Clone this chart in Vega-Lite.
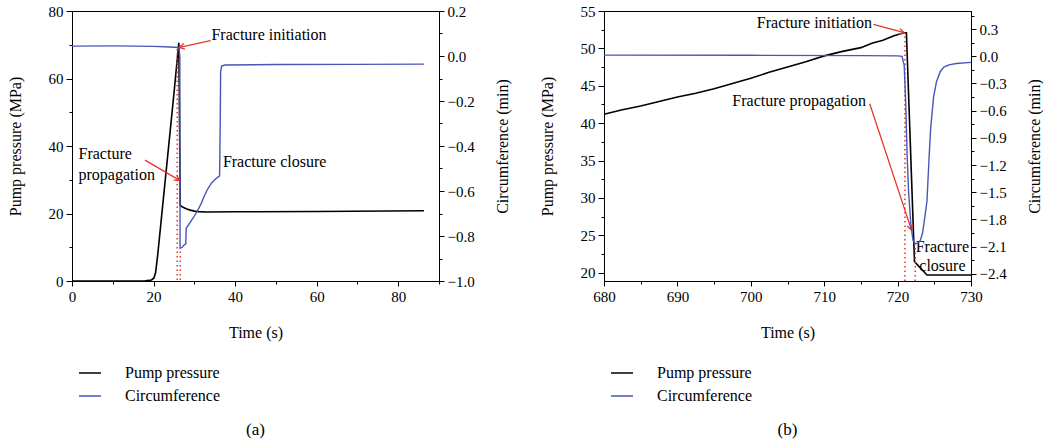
{
  "$schema": "https://vega.github.io/schema/vega-lite/v6.json",
  "padding": {"left": 6, "top": 3, "right": 2, "bottom": 5},
  "background": "white",
  "config": {
    "font": "Liberation Serif",
    "view": {"stroke": "black", "strokeWidth": 1},
    "axis": {"labelFont": "Liberation Serif", "labelFontSize": 15, "labelColor": "black", "titleFont": "Liberation Serif", "titleFontSize": 16, "titleFontWeight": "normal", "titleColor": "black", "domainColor": "black", "tickColor": "black", "grid": false, "labelPadding": 3, "labelFlush": false, "labelOverlap": false},
    "legend": {"labelFont": "Liberation Serif", "labelFontSize": 16, "labelColor": "black"},
    "title": {"font": "Liberation Serif", "fontSize": 17, "fontWeight": "normal", "color": "black"},
    "text": {"font": "Liberation Serif", "fontSize": 16, "color": "black"}
  },
  "hconcat": [
    {
      "width": 367,
      "height": 270,
      "title": {"text": "(a)", "orient": "bottom", "anchor": "middle", "frame": "group", "offset": 18},
      "layer": [
        {
          "data": {"values": [
            {"t": 0, "p": 0}, {"t": 10, "p": 0}, {"t": 18, "p": 0.05}, {"t": 19.5, "p": 0.3}, {"t": 20.1, "p": 0.9}, {"t": 20.5, "p": 2.5}, {"t": 21, "p": 7.5}, {"t": 22, "p": 19.5}, {"t": 23, "p": 31.5}, {"t": 24, "p": 43.5}, {"t": 25, "p": 55.5}, {"t": 26.2, "p": 70.6}, {"t": 26.55, "p": 22.4}, {"t": 27, "p": 22}, {"t": 28, "p": 21.4}, {"t": 29, "p": 21}, {"t": 30, "p": 20.7}, {"t": 31, "p": 20.55}, {"t": 33, "p": 20.45}, {"t": 40, "p": 20.5}, {"t": 60, "p": 20.6}, {"t": 86.3, "p": 20.8}
          ]},
          "mark": {"type": "line", "strokeWidth": 1.6},
          "encoding": {
            "x": {"field": "t", "type": "quantitative", "scale": {"domain": [0, 90], "nice": false, "zero": false},
              "axis": {"title": "Time (s)", "values": [0, 10, 20, 30, 40, 50, 60, 70, 80, 90], "labelExpr": "datum.value % 20 === 0 && datum.value < 90 ? datum.label : ''", "tickSize": {"condition": {"test": "datum.value % 20 === 0", "value": 5}, "value": 3}, "titlePadding": 20}},
            "y": {"field": "p", "type": "quantitative", "scale": {"domain": [0, 80], "nice": false, "zero": false},
              "axis": {"title": "Pump pressure (MPa)", "values": [0, 10, 20, 30, 40, 50, 60, 70, 80], "labelExpr": "datum.value % 20 === 0 ? datum.label : ''", "tickSize": {"condition": {"test": "datum.value % 20 === 0", "value": 6}, "value": 3}, "titlePadding": 25}},
            "color": {"datum": "Pump pressure", "type": "nominal", "scale": {"domain": ["Pump pressure", "Circumference"], "range": ["black", "#4b55b9"]},
              "legend": {"orient": "none", "legendX": 6, "legendY": 350, "title": null, "symbolType": "stroke", "symbolSize": 484, "symbolStrokeWidth": 1.5, "labelOffset": 23, "rowPadding": 3, "padding": 0, "direction": "vertical"}}
          }
        },
        {
          "data": {"values": [{"t": 25.8, "p": 0.3, "p2": 69}, {"t": 26.55, "p": 0.3, "p2": 9}]},
          "mark": {"type": "rule", "color": "#e8352b", "strokeWidth": 1.5, "strokeDash": [1.5, 3]},
          "encoding": {
            "x": {"field": "t", "type": "quantitative", "scale": {"domain": [0, 90], "nice": false, "zero": false}, "axis": null},
            "y": {"field": "p", "type": "quantitative", "scale": {"domain": [0, 80], "nice": false, "zero": false}, "axis": null},
            "y2": {"field": "p2"}
          }
        },
        {
          "data": {"values": [{"t": 34.0, "p": 71.2, "t2": 26.3, "p2": 69.2}, {"t": 17.9, "p": 35.8, "t2": 26.4, "p2": 29.8}]},
          "mark": {"type": "rule", "color": "#e8352b", "strokeWidth": 1.3},
          "encoding": {
            "x": {"field": "t", "type": "quantitative", "scale": {"domain": [0, 90], "nice": false, "zero": false}, "axis": null},
            "y": {"field": "p", "type": "quantitative", "scale": {"domain": [0, 80], "nice": false, "zero": false}, "axis": null},
            "x2": {"field": "t2"}, "y2": {"field": "p2"}
          }
        },
        {
          "data": {"values": [{"t2": 26.3, "p2": 69.2, "dir": 257.5}, {"t2": 26.4, "p2": 29.8, "dir": 121.5}]},
          "mark": {"type": "point", "shape": "M-0.6,1.1L0,0L0.6,1.1", "filled": false, "color": "#e8352b", "strokeWidth": 1.3, "size": 90, "opacity": 1},
          "encoding": {
            "x": {"field": "t2", "type": "quantitative", "scale": {"domain": [0, 90], "nice": false, "zero": false}, "axis": null},
            "y": {"field": "p2", "type": "quantitative", "scale": {"domain": [0, 80], "nice": false, "zero": false}, "axis": null},
            "angle": {"field": "dir", "type": "quantitative", "scale": null}
          }
        },
        {
          "data": {"values": [{"t": 34.2, "p": 72.9, "label": "Fracture initiation"}, {"t": 1.6, "p": 37.6, "label": "Fracture"}, {"t": 1.6, "p": 31.4, "label": "propagation"}, {"t": 37.0, "p": 35.2, "label": "Fracture closure"}]},
          "mark": {"type": "text", "align": "left", "baseline": "middle"},
          "encoding": {
            "x": {"field": "t", "type": "quantitative", "scale": {"domain": [0, 90], "nice": false, "zero": false}, "axis": null},
            "y": {"field": "p", "type": "quantitative", "scale": {"domain": [0, 80], "nice": false, "zero": false}, "axis": null},
            "text": {"field": "label"}
          }
        },
        {
          "data": {"values": [
            {"t": 0, "c": 0.044}, {"t": 10, "c": 0.045}, {"t": 20, "c": 0.043}, {"t": 24, "c": 0.04}, {"t": 26.2, "c": 0.038}, {"t": 26.45, "c": 0.0}, {"t": 26.5, "c": -0.855}, {"t": 27.0, "c": -0.85}, {"t": 27.5, "c": -0.84}, {"t": 27.9, "c": -0.835}, {"t": 28.0, "c": -0.765}, {"t": 28.6, "c": -0.75}, {"t": 29.7, "c": -0.72}, {"t": 30.7, "c": -0.69}, {"t": 31.7, "c": -0.655}, {"t": 32.5, "c": -0.62}, {"t": 33.3, "c": -0.59}, {"t": 34.2, "c": -0.565}, {"t": 35, "c": -0.55}, {"t": 36.2, "c": -0.533}, {"t": 36.35, "c": -0.3}, {"t": 36.45, "c": -0.07}, {"t": 36.7, "c": -0.045}, {"t": 37.5, "c": -0.04}, {"t": 50, "c": -0.038}, {"t": 70, "c": -0.037}, {"t": 86.3, "c": -0.036}
          ]},
          "mark": {"type": "line", "strokeWidth": 1.4},
          "encoding": {
            "x": {"field": "t", "type": "quantitative", "scale": {"domain": [0, 90], "nice": false, "zero": false}, "axis": null},
            "y": {"field": "c", "type": "quantitative", "scale": {"domain": [-1, 0.2], "nice": false, "zero": false},
              "axis": {"orient": "right", "title": "Circumference (min)", "titleAngle": 270, "titleBaseline": "top", "format": ".1f", "values": [-1, -0.9, -0.8, -0.7, -0.6, -0.5, -0.4, -0.3, -0.2, -0.1, 0, 0.1, 0.2], "labelExpr": "abs(round(datum.value * 10)) % 2 === 0 ? datum.label : ''", "tickSize": {"condition": {"test": "abs(round(datum.value * 10)) % 2 === 0", "value": 5}, "value": 3}, "titlePadding": 20}},
            "color": {"datum": "Circumference", "type": "nominal"}
          }
        }
      ],
      "resolve": {"scale": {"x": "independent", "y": "independent"}}
    },
    {
      "width": 367,
      "height": 270,
      "title": {"text": "(b)", "orient": "bottom", "anchor": "middle", "frame": "group", "offset": 18},
      "layer": [
        {
          "data": {"values": [
            {"t": 680, "p": 41.2}, {"t": 682.5, "p": 41.8}, {"t": 685, "p": 42.3}, {"t": 687.5, "p": 42.9}, {"t": 690, "p": 43.5}, {"t": 692.5, "p": 44.0}, {"t": 695, "p": 44.6}, {"t": 697.5, "p": 45.3}, {"t": 700, "p": 46.0}, {"t": 702.5, "p": 46.8}, {"t": 705, "p": 47.5}, {"t": 707.5, "p": 48.2}, {"t": 710, "p": 49.0}, {"t": 712.5, "p": 49.6}, {"t": 715, "p": 50.1}, {"t": 716.5, "p": 50.7}, {"t": 718, "p": 51.1}, {"t": 719.5, "p": 51.7}, {"t": 720.9, "p": 52.1}, {"t": 721.2, "p": 52.1}, {"t": 722.3, "p": 21.5}, {"t": 724, "p": 19.7}, {"t": 730, "p": 19.7}
          ]},
          "mark": {"type": "line", "strokeWidth": 1.6},
          "encoding": {
            "x": {"field": "t", "type": "quantitative", "scale": {"domain": [680, 730], "nice": false, "zero": false},
              "axis": {"title": "Time (s)", "values": [680, 685, 690, 695, 700, 705, 710, 715, 720, 725, 730], "labelExpr": "datum.value % 10 === 0 ? datum.label : ''", "tickSize": {"condition": {"test": "datum.value % 10 === 0", "value": 5}, "value": 3}, "titlePadding": 20}},
            "y": {"field": "p", "type": "quantitative", "scale": {"domain": [18.9, 55], "nice": false, "zero": false},
              "axis": {"title": "Pump pressure (MPa)", "values": [20, 22.5, 25, 27.5, 30, 32.5, 35, 37.5, 40, 42.5, 45, 47.5, 50, 52.5, 55], "format": "d", "labelExpr": "round(datum.value * 2) % 10 === 0 ? datum.label : ''", "tickSize": {"condition": {"test": "round(datum.value * 2) % 10 === 0", "value": 6}, "value": 3}, "titlePadding": 25}},
            "color": {"datum": "Pump pressure", "type": "nominal", "scale": {"domain": ["Pump pressure", "Circumference"], "range": ["black", "#4b55b9"]},
              "legend": {"orient": "none", "legendX": 6, "legendY": 350, "title": null, "symbolType": "stroke", "symbolSize": 484, "symbolStrokeWidth": 1.5, "labelOffset": 23, "rowPadding": 3, "padding": 0, "direction": "vertical"}}
          }
        },
        {
          "data": {"values": [{"t": 721.0, "p": 18.9, "p2": 51.8}, {"t": 722.4, "p": 18.9, "p2": 23.5}]},
          "mark": {"type": "rule", "color": "#e8352b", "strokeWidth": 1.5, "strokeDash": [1.5, 3]},
          "encoding": {
            "x": {"field": "t", "type": "quantitative", "scale": {"domain": [680, 730], "nice": false, "zero": false}, "axis": null},
            "y": {"field": "p", "type": "quantitative", "scale": {"domain": [18.9, 55], "nice": false, "zero": false}, "axis": null},
            "y2": {"field": "p2"}
          }
        },
        {
          "data": {"values": [{"t": 716.7, "p": 53.2, "t2": 720.9, "p2": 52.1}, {"t": 716.2, "p": 42.6, "t2": 721.9, "p2": 25.7}]},
          "mark": {"type": "rule", "color": "#e8352b", "strokeWidth": 1.3},
          "encoding": {
            "x": {"field": "t", "type": "quantitative", "scale": {"domain": [680, 730], "nice": false, "zero": false}, "axis": null},
            "y": {"field": "p", "type": "quantitative", "scale": {"domain": [18.9, 55], "nice": false, "zero": false}, "axis": null},
            "x2": {"field": "t2"}, "y2": {"field": "p2"}
          }
        },
        {
          "data": {"values": [{"t2": 720.9, "p2": 52.1, "dir": 104.7}, {"t2": 721.9, "p2": 25.7, "dir": 161.8}]},
          "mark": {"type": "point", "shape": "M-0.6,1.1L0,0L0.6,1.1", "filled": false, "color": "#e8352b", "strokeWidth": 1.3, "size": 90, "opacity": 1},
          "encoding": {
            "x": {"field": "t2", "type": "quantitative", "scale": {"domain": [680, 730], "nice": false, "zero": false}, "axis": null},
            "y": {"field": "p2", "type": "quantitative", "scale": {"domain": [18.9, 55], "nice": false, "zero": false}, "axis": null},
            "angle": {"field": "dir", "type": "quantitative", "scale": null}
          }
        },
        {
          "data": {"values": [{"t": 716.5, "p": 53.45, "label": "Fracture initiation"}, {"t": 715.7, "p": 43.0, "label": "Fracture propagation"}]},
          "mark": {"type": "text", "align": "right", "baseline": "middle"},
          "encoding": {
            "x": {"field": "t", "type": "quantitative", "scale": {"domain": [680, 730], "nice": false, "zero": false}, "axis": null},
            "y": {"field": "p", "type": "quantitative", "scale": {"domain": [18.9, 55], "nice": false, "zero": false}, "axis": null},
            "text": {"field": "label"}
          }
        },
        {
          "data": {"values": [{"t": 726.1, "p": 23.4, "label": "Fracture"}, {"t": 726.1, "p": 20.9, "label": "closure"}]},
          "mark": {"type": "text", "align": "center", "baseline": "middle"},
          "encoding": {
            "x": {"field": "t", "type": "quantitative", "scale": {"domain": [680, 730], "nice": false, "zero": false}, "axis": null},
            "y": {"field": "p", "type": "quantitative", "scale": {"domain": [18.9, 55], "nice": false, "zero": false}, "axis": null},
            "text": {"field": "label"}
          }
        },
        {
          "data": {"values": [
            {"t": 680, "c": 0.013}, {"t": 700, "c": 0.011}, {"t": 715, "c": 0.008}, {"t": 720, "c": 0.005}, {"t": 720.6, "c": 0.0}, {"t": 720.9, "c": -0.1}, {"t": 721.1, "c": -0.5}, {"t": 721.3, "c": -1.1}, {"t": 721.5, "c": -1.5}, {"t": 721.8, "c": -1.85}, {"t": 722.1, "c": -2.03}, {"t": 722.4, "c": -2.07}, {"t": 722.8, "c": -2.06}, {"t": 723.1, "c": -2.03}, {"t": 723.4, "c": -1.95}, {"t": 723.7, "c": -1.78}, {"t": 724.0, "c": -1.6}, {"t": 724.3, "c": -1.1}, {"t": 724.5, "c": -0.8}, {"t": 724.9, "c": -0.45}, {"t": 725.3, "c": -0.28}, {"t": 725.8, "c": -0.17}, {"t": 726.3, "c": -0.12}, {"t": 727, "c": -0.095}, {"t": 728, "c": -0.08}, {"t": 730, "c": -0.067}
          ]},
          "mark": {"type": "line", "strokeWidth": 1.4},
          "encoding": {
            "x": {"field": "t", "type": "quantitative", "scale": {"domain": [680, 730], "nice": false, "zero": false}, "axis": null},
            "y": {"field": "c", "type": "quantitative", "scale": {"domain": [-2.48, 0.5], "nice": false, "zero": false},
              "axis": {"orient": "right", "title": "Circumference (min)", "titleAngle": 270, "titleBaseline": "top", "format": ".1f", "values": [-2.4, -2.25, -2.1, -1.95, -1.8, -1.65, -1.5, -1.35, -1.2, -1.05, -0.9, -0.75, -0.6, -0.45, -0.3, -0.15, 0, 0.15, 0.3, 0.45], "labelExpr": "abs(round(datum.value / 0.15)) % 2 === 0 ? datum.label : ''", "tickSize": {"condition": {"test": "abs(round(datum.value / 0.15)) % 2 === 0", "value": 5}, "value": 3}, "titlePadding": 20}},
            "color": {"datum": "Circumference", "type": "nominal"}
          }
        }
      ],
      "resolve": {"scale": {"x": "independent", "y": "independent"}}
    }
  ],
  "spacing": 165,
  "bounds": "flush",
  "resolve": {"scale": {"color": "independent"}, "legend": {"color": "independent"}}
}
